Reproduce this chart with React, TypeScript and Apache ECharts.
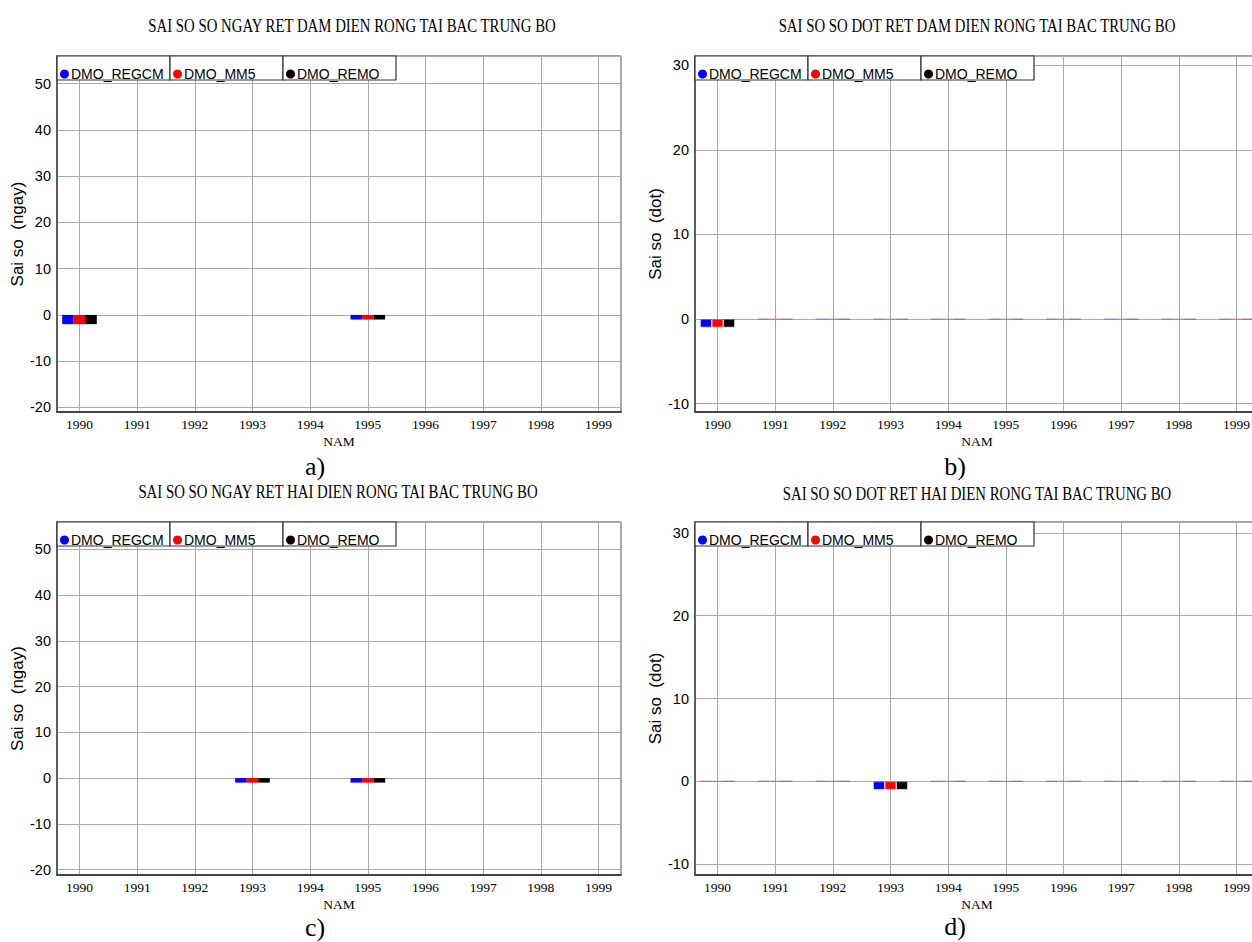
import React, { useEffect, useRef } from "react";
import * as echarts from "echarts";

// ---------- data ----------
const YEARS = [1990, 1991, 1992, 1993, 1994, 1995, 1996, 1997, 1998, 1999];
const SERIES_NAMES = ["DMO_REGCM", "DMO_MM5", "DMO_REMO"];
const SERIES_COLORS = ["#0000ff", "#ff0000", "#000000"];
const FAINT_COLORS = ["rgba(0,0,255,0.28)", "rgba(255,0,0,0.28)", "rgba(0,0,0,0.28)"];

// a) SAI SO SO NGAY RET DAM
const A_REGCM = [-2, 0, 0, 0, 0, -1, 0, 0, 0, 0];
const A_MM5 = [-2, 0, 0, 0, 0, -1, 0, 0, 0, 0];
const A_REMO = [-2, 0, 0, 0, 0, -1, 0, 0, 0, 0];
// b) SAI SO SO DOT RET DAM
const B_REGCM = [-1, 0, 0, 0, 0, 0, 0, 0, 0, 0];
const B_MM5 = [-1, 0, 0, 0, 0, 0, 0, 0, 0, 0];
const B_REMO = [-1, 0, 0, 0, 0, 0, 0, 0, 0, 0];
// c) SAI SO SO NGAY RET HAI
const C_REGCM = [0, 0, 0, -1, 0, -1, 0, 0, 0, 0];
const C_MM5 = [0, 0, 0, -1, 0, -1, 0, 0, 0, 0];
const C_REMO = [0, 0, 0, -1, 0, -1, 0, 0, 0, 0];
// d) SAI SO SO DOT RET HAI
const D_REGCM = [0, 0, 0, -1, 0, 0, 0, 0, 0, 0];
const D_MM5 = [0, 0, 0, -1, 0, 0, 0, 0, 0, 0];
const D_REMO = [0, 0, 0, -1, 0, 0, 0, 0, 0, 0];

const TITLES = [
  "SAI SO SO NGAY RET DAM DIEN RONG TAI BAC TRUNG BO",
  "SAI SO SO DOT RET DAM DIEN RONG TAI BAC TRUNG BO",
  "SAI SO SO NGAY RET HAI DIEN RONG TAI BAC TRUNG BO",
  "SAI SO SO DOT RET HAI DIEN RONG TAI BAC TRUNG BO",
];
const Y_NAMES = ["Sai so  (ngay)", "Sai so  (dot)", "Sai so  (ngay)", "Sai so  (dot)"];
const X_NAME = "NAM";
const PANEL_LABELS = ["a)", "b)", "c)", "d)"];

// ---------- layout ----------
const PANELS = [
  { data: [A_REGCM, A_MM5, A_REMO], left: 57, top: 56, height: 356, ymin: -21, ymax: 56, faint: false, tx: 352, ty: 26, lx: 315, ly: 466 },
  { data: [B_REGCM, B_MM5, B_REMO], left: 695, top: 56, height: 356, ymin: -11, ymax: 31.1, faint: true, tx: 977, ty: 26, lx: 955, ly: 466 },
  { data: [C_REGCM, C_MM5, C_REMO], left: 57, top: 522, height: 353, ymin: -21.2, ymax: 56, faint: false, tx: 338, ty: 492, lx: 315, ly: 927 },
  { data: [D_REGCM, D_MM5, D_REMO], left: 695, top: 522, height: 353, ymin: -11.3, ymax: 31.3, faint: true, tx: 977, ty: 494, lx: 955, ly: 926 },
];
const PLOT_W = 564;
const CELL_W = 113;
const SANS = "Liberation Sans";
const SERIF = "Liberation Serif";

function buildOption() {
  const grid: any[] = [];
  const xAxis: any[] = [];
  const yAxis: any[] = [];
  const series: any[] = [];
  const legend: any[] = [];
  const elements: any[] = [];

  PANELS.forEach((p, pi) => {
    grid.push({
      left: p.left,
      top: p.top,
      width: PLOT_W,
      height: p.height,
      show: true,
      borderColor: "#444",
      borderWidth: 1,
      outerBoundsMode: "none",
    });
    xAxis.push({
      gridIndex: pi,
      type: "value",
      min: 1989.61,
      max: 1999.39,
      minInterval: 1,
      maxInterval: 1,
      splitNumber: 10,
      axisLine: { show: true, onZero: false, lineStyle: { color: "#444", width: 2 } },
      axisTick: { show: false },
      axisLabel: {
        showMinLabel: false,
        showMaxLabel: false,
        formatter: (v: number) => String(Math.round(v)),
        fontFamily: SERIF,
        fontSize: 13.5,
        color: "#000",
        margin: 5,
      },
      splitLine: { show: true, lineStyle: { color: "#aaa", width: 1 } },
      name: X_NAME,
      nameLocation: "middle",
      nameGap: 22,
      nameTextStyle: { fontFamily: SERIF, fontSize: 13.5, color: "#000" },
    });
    yAxis.push({
      gridIndex: pi,
      type: "value",
      min: p.ymin,
      max: p.ymax,
      minInterval: 10,
      maxInterval: 10,
      axisLine: { show: true, onZero: false, lineStyle: { color: "#444", width: 1.5 } },
      axisTick: { show: false },
      axisLabel: {
        showMinLabel: false,
        showMaxLabel: false,
        fontFamily: SANS,
        fontSize: 14.5,
        color: "#000",
        margin: 6,
      },
      splitLine: { show: true, lineStyle: { color: "#aaa", width: 1 } },
      name: Y_NAMES[pi],
      nameLocation: "middle",
      nameGap: 31,
      nameTextStyle: { fontFamily: SANS, fontSize: 17, color: "#000" },
    });

    SERIES_NAMES.forEach((name, si) => {
      const vals = p.data[si];
      series.push({
        type: "bar",
        name,
        xAxisIndex: pi,
        yAxisIndex: pi,
        data: YEARS.map((y, j) => [y, vals[j]]),
        barWidth: "20%",
        barGap: "0%",
        silent: true,
        itemStyle: p.faint
          ? { color: SERIES_COLORS[si], borderColor: FAINT_COLORS[si], borderWidth: 1.5 }
          : { color: SERIES_COLORS[si], borderWidth: 0 },
      });

      legend.push({
        left: p.left + si * CELL_W + 3,
        top: p.top + 10,
        data: [name],
        icon: "circle",
        itemWidth: 9,
        itemHeight: 9,
        itemGap: 0,
        padding: 0,
        selectedMode: false,
        z: 10,
        textStyle: { fontFamily: SANS, fontSize: 14, color: "#000", lineHeight: 16, padding: [0, 0, 0, -3] },
      });
      elements.push({
        type: "rect",
        z: 5,
        shape: { x: p.left + si * CELL_W, y: p.top, width: CELL_W, height: 24 },
        style: { fill: "#fff", stroke: "#333", lineWidth: 1.2 },
      });
    });

    elements.push({
      type: "text",
      x: p.tx,
      y: p.ty,
      scaleY: 1.3,
      z: 5,
      style: {
        text: TITLES[pi],
        fontFamily: SERIF,
        fontSize: 14.8,
        fill: "#000",
        align: "center",
        verticalAlign: "middle",
      },
    });
    elements.push({
      type: "text",
      x: p.lx,
      y: p.ly,
      z: 5,
      style: {
        text: PANEL_LABELS[pi],
        fontFamily: SERIF,
        fontSize: 26,
        fill: "#000",
        align: "center",
        verticalAlign: "middle",
      },
    });
  });

  return {
    animation: false,
    backgroundColor: "#fff",
    grid,
    xAxis,
    yAxis,
    series,
    legend,
    graphic: { elements },
  };
}

export default function App() {
  const ref = useRef<HTMLDivElement>(null);
  useEffect(() => {
    const chart = echarts.init(ref.current as HTMLDivElement, null, { renderer: "svg" });
    chart.setOption(buildOption() as any);
    return () => chart.dispose();
  }, []);
  return (
    <div
      ref={ref}
      style={{ position: "absolute", left: 0, top: 0, width: 1252, height: 942 }}
    />
  );
}
